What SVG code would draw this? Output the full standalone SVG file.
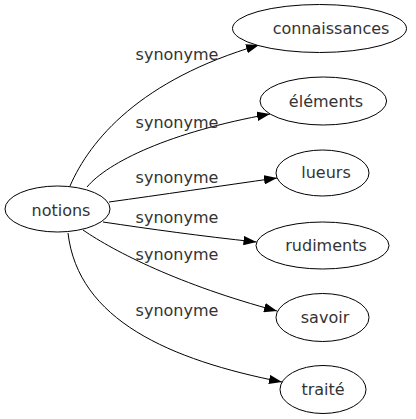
<svg xmlns="http://www.w3.org/2000/svg" width="416" height="419" viewBox="0 0 416 419">
<style>
.node ellipse{fill:#fff;stroke:#000;stroke-width:1}
.node text{font-family:"DejaVu Sans","Liberation Sans",sans-serif;font-size:16px;fill:#333;text-anchor:middle}
.edges path{fill:none;stroke:#000;stroke-width:1}
.edges text{font-family:"DejaVu Sans","Liberation Sans",sans-serif;font-size:16px;fill:#333;text-anchor:middle}
</style>
<defs>
<marker id="arr" markerUnits="userSpaceOnUse" viewBox="0 0 13 9.4" markerWidth="13" markerHeight="9.4" refX="13" refY="4.7" orient="auto">
<path d="M0,0 L13,4.7 L0,9.4 z" fill="#000"/>
</marker>
</defs>
<rect width="416" height="419" fill="#fff"/>
<g id="connectors" class="edges">
<path d="M70,186 C90,140 140,80 259,45" marker-end="url(#arr)"/>
<text x="177" y="60">synonyme</text>
<path d="M87,187 C108,162 170,132 270,114" marker-end="url(#arr)"/>
<text x="177" y="128">synonyme</text>
<path d="M109,202 C160,195 220,186 277,178" marker-end="url(#arr)"/>
<text x="177" y="183">synonyme</text>
<path d="M103,222 C150,229 200,236 256.5,242" marker-end="url(#arr)"/>
<text x="177" y="222.5">synonyme</text>
<path d="M83,230 C115,252 180,285 277,311" marker-end="url(#arr)"/>
<text x="177" y="260">synonyme</text>
<path d="M68,233 C78,320 170,360 282,382" marker-end="url(#arr)"/>
<text x="177" y="316">synonyme</text>
</g>
<g id="notions" class="node"><ellipse cx="57.5" cy="209" rx="52.5" ry="23"/><text x="61" y="215.5">notions</text></g>
<g id="connaissances" class="node"><ellipse cx="319.5" cy="28.5" rx="87" ry="24"/><text x="331" y="34">connaissances</text></g>
<g id="elements" class="node"><ellipse cx="323.3" cy="101" rx="63.3" ry="24"/><text x="326" y="106.5">éléments</text></g>
<g id="lueurs" class="node"><ellipse cx="322.5" cy="173" rx="46.5" ry="23"/><text x="326" y="178">lueurs</text></g>
<g id="rudiments" class="node"><ellipse cx="322.5" cy="245.5" rx="66.5" ry="23.5"/><text x="326" y="251">rudiments</text></g>
<g id="savoir" class="node"><ellipse cx="322.5" cy="317.5" rx="46.5" ry="24"/><text x="325" y="323">savoir</text></g>
<g id="traite" class="node"><ellipse cx="323" cy="389.5" rx="43" ry="24"/><text x="323" y="395">traité</text></g>
</svg>
